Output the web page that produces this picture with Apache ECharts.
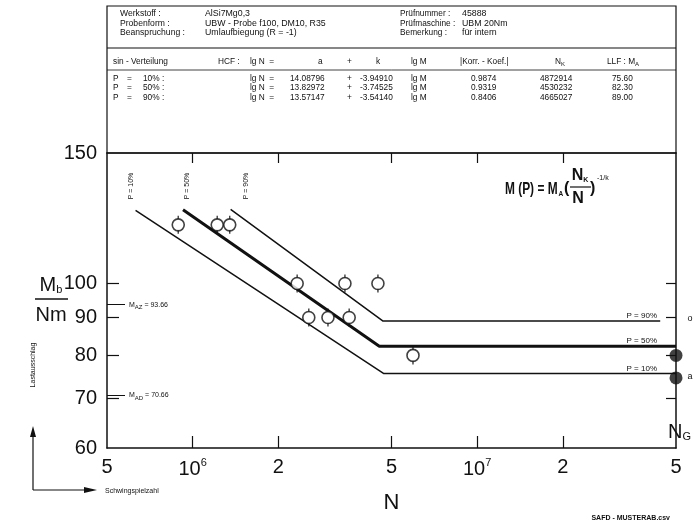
<!DOCTYPE html>
<html><head><meta charset="utf-8">
<script src="https://cdn.jsdelivr.net/npm/echarts@6/dist/echarts.min.js"></script>
<style>html,body{margin:0;padding:0;background:#fff}#c{width:694px;height:527px}</style>
</head><body><div id="c"></div>
<script>
// ---- data ----
const xTicks = [5e5, 1e6, 2e6, 5e6, 1e7, 2e7, 5e7];
const xTickLabels = ['5', '10^6', '2', '5', '10^7', '2', '5'];
const xInnerTicks = [1e6, 2e6, 5e6, 1e7, 2e7];
const yTicks = [60, 70, 80, 90, 100, 150];
const yInnerTicks = [70, 80, 90, 100];
const yMarks = [70.66, 93.66];
const yMarkNames = ['AD', 'AZ'];
const p10Line = [[6.3e5, 125.5], [4.7e6, 75.6], [5e7, 75.6]];
const p50Line = [[9.25e5, 125.8], [4.53e6, 82.3], [5e7, 82.3]];
const p90Line = [[1.36e6, 125.9], [4.67e6, 89.0], [4.4e7, 89.0]];
const testPoints = [[8.9e5, 120], [1.22e6, 120], [1.35e6, 120], [2.33e6, 100], [2.56e6, 90], [2.99e6, 90], [3.43e6, 100], [3.55e6, 90], [4.48e6, 100], [5.95e6, 80]];
const runouts = [[5e7, 80], [5e7, 74.6]];

const headerLeft = [['Werkstoff :', 'AlSi7Mg0,3'], ['Probenform :', 'UBW - Probe f100, DM10, R35'], ['Beanspruchung :', 'Umlaufbiegung (R = -1)']];
const headerRight = [['Prüfnummer :', '45888'], ['Prüfmaschine :', 'UBM 20Nm'], ['Bemerkung :', 'für intern']];
const tableRows = [
  ['10%', '14.08796', '-3.94910', '0.9874', '4872914', '75.60'],
  ['50%', '13.82972', '-3.74525', '0.9319', '4530232', '82.30'],
  ['90%', '13.57147', '-3.54140', '0.8406', '4665027', '89.00']
];

const FONT = '"Liberation Sans", Arial, sans-serif';
const chart = echarts.init(document.getElementById('c'));

function txt(x, y, s, size, extra) {
  return {type: 'text', x: x, y: y, style: Object.assign({text: s, fontFamily: FONT, fontSize: size, fill: '#111', verticalAlign: 'middle'}, extra || {})};
}
function ln(x1, y1, x2, y2, w) {
  return {type: 'line', shape: {x1: x1, y1: y1, x2: x2, y2: y2}, style: {stroke: '#111', lineWidth: w || 1}};
}

const g = [];
// header box
g.push({type: 'rect', shape: {x: 107, y: 6, width: 569, height: 147}, style: {fill: 'none', stroke: '#111', lineWidth: 1.2}});
g.push(ln(107, 48, 676, 48, 1.2));
g.push(ln(107, 70, 676, 70, 0.8));
headerLeft.forEach((r, i) => { g.push(txt(120, 14 + i * 9.5, r[0], 8.6)); g.push(txt(205, 14 + i * 9.5, r[1], 8.8)); });
headerRight.forEach((r, i) => { g.push(txt(400, 14 + i * 9.5, r[0], 8.3)); g.push(txt(462, 14 + i * 9.5, r[1], 8.8)); });
const hy = 62, TF = 8.3;
g.push(txt(113, hy, 'sin - Verteilung', TF));
g.push(txt(218, hy, 'HCF :', TF));
g.push(txt(250, hy, 'lg N  =', TF));
g.push(txt(318, hy, 'a', TF));
g.push(txt(347, hy, '+', TF));
g.push(txt(376, hy, 'k', TF));
g.push(txt(411, hy, 'lg M', TF));
g.push(txt(460, hy, '|Korr. - Koef.|', TF));
g.push({type: 'text', x: 555, y: hy, style: {text: '{a|N}{b|K}', fontFamily: FONT, verticalAlign: 'middle', rich: {a: {fontSize: TF, fontFamily: FONT, fill: '#111'}, b: {fontSize: 6, fontFamily: FONT, fill: '#111', padding: [5, 0, 0, 0]}}}});
g.push({type: 'text', x: 607, y: hy, style: {text: '{a|LLF : M}{b|A}', fontFamily: FONT, verticalAlign: 'middle', rich: {a: {fontSize: TF, fontFamily: FONT, fill: '#111'}, b: {fontSize: 6, fontFamily: FONT, fill: '#111', padding: [5, 0, 0, 0]}}}});
tableRows.forEach((r, i) => {
  const y = 78.5 + i * 9.5;
  g.push(txt(113, y, 'P', TF)); g.push(txt(127, y, '=', TF)); g.push(txt(143, y, r[0] + ' :', TF));
  g.push(txt(250, y, 'lg N  =', TF)); g.push(txt(290, y, r[1], TF)); g.push(txt(347, y, '+', TF));
  g.push(txt(360, y, r[2], TF)); g.push(txt(411, y, 'lg M', TF)); g.push(txt(471, y, r[3], TF));
  g.push(txt(540, y, r[4], TF)); g.push(txt(612, y, r[5], TF));
});
// y axis name fraction
g.push({type: 'text', x: 51, y: 285, style: {text: '{a|M}{b|b}', fontFamily: FONT, align: 'center', verticalAlign: 'middle', rich: {a: {fontSize: 20, fontFamily: FONT, fill: '#111'}, b: {fontSize: 11, fontFamily: FONT, fill: '#111', padding: [10, 0, 0, 0]}}}});
g.push(ln(35, 299, 68, 299, 1.5));
g.push(txt(51, 315, 'Nm', 20, {align: 'center'}));
// Lastausschlag + arrows
g.push({type: 'text', x: 33, y: 365, rotation: Math.PI / 2, style: {text: 'Lastausschlag', fontFamily: FONT, fontSize: 7, fill: '#111', align: 'center', verticalAlign: 'middle'}});
g.push(ln(33, 490, 33, 432, 1.2));
g.push({type: 'polygon', shape: {points: [[33, 426], [30, 437], [36, 437]]}, style: {fill: '#111'}});
g.push(ln(33, 490, 90, 490, 1.2));
g.push({type: 'polygon', shape: {points: [[97, 490], [84, 487], [84, 493]]}, style: {fill: '#111'}});
g.push(txt(105, 491, 'Schwingspielzahl', 7));
g.push(txt(670, 518, 'SAFD - MUSTERAB.csv', 7, {align: 'right', fontWeight: 'bold'}));
// N_G
g.push({type: 'text', x: 668, y: 432, style: {text: '{a|N}{b|G}', fontFamily: FONT, verticalAlign: 'middle', rich: {a: {fontSize: 20, fontFamily: FONT, fill: '#111'}, b: {fontSize: 11, fontFamily: FONT, fill: '#111', padding: [10, 0, 0, 0]}}}});
g.push(txt(690, 319, 'o', 9, {align: 'center'}));
g.push(txt(690, 377, 'a', 9, {align: 'center'}));
// formula
g.push({type: 'text', x: 505, y: 189, scaleX: 0.7, style: {text: 'M (P) = M', fontFamily: FONT, fontSize: 17, fontWeight: 'bold', fill: '#111', verticalAlign: 'middle'}});
g.push(txt(558.5, 194, 'A', 6.5, {fontWeight: 'bold'}));
g.push(txt(564, 189, '(', 16, {fontWeight: 'bold'}));
g.push({type: 'text', x: 580, y: 176, style: {text: '{a|N}{b|K}', fontFamily: FONT, align: 'center', verticalAlign: 'middle', rich: {a: {fontSize: 16, fontWeight: 'bold', fontFamily: FONT, fill: '#111'}, b: {fontSize: 7, fontWeight: 'bold', fontFamily: FONT, fill: '#111', padding: [8, 0, 0, 0]}}}});
g.push(ln(570, 187, 591, 187, 1.2));
g.push(txt(578, 199, 'N', 16, {align: 'center', fontWeight: 'bold'}));
g.push(txt(590, 189, ')', 16, {fontWeight: 'bold'}));
g.push(txt(597, 178, '-1/k', 7));
// P labels rotated at line starts
[['P = 10%', 131], ['P = 50%', 187], ['P = 90%', 246]].forEach(p => {
  g.push({type: 'text', x: p[1], y: 186, rotation: Math.PI / 2, style: {text: p[0], fontFamily: FONT, fontSize: 7, fill: '#111', align: 'center', verticalAlign: 'middle'}});
});
[['P = 90%', 316], ['P = 50%', 341], ['P = 10%', 369]].forEach(p => {
  g.push(txt(657, p[1], p[0], 8, {align: 'right'}));
});

const supFmt = function (v) {
  const i = xTicks.findIndex(t => Math.abs(t - v) / t < 1e-6);
  const s = i >= 0 ? xTickLabels[i] : '';
  if (s.indexOf('^') >= 0) { const p = s.split('^'); return '{n|' + p[0] + '}{s|' + p[1] + '}'; }
  return '{n|' + s + '}';
};
const axisBase = {type: 'log', logBase: 10, axisLine: {show: true, lineStyle: {color: '#111', width: 1.5}}, splitLine: {show: false}, minorTick: {show: false}, minorSplitLine: {show: false}};

chart.setOption({
  animation: false,
  backgroundColor: '#fff',
  grid: {left: 107, right: 18, top: 153, bottom: 79, containLabel: false},
  xAxis: [
    Object.assign({}, axisBase, {position: 'bottom', min: 5e5, max: 5e7,
      name: 'N', nameLocation: 'middle', nameGap: 44, nameTextStyle: {fontSize: 22, fontFamily: FONT, color: '#111'},
      axisTick: {show: true, inside: true, length: 12, lineStyle: {color: '#111', width: 1.2}, customValues: xInnerTicks},
      axisLabel: {show: true, margin: 9, customValues: xTicks, formatter: supFmt, rich: {n: {fontSize: 20, fontFamily: FONT, color: '#111'}, s: {fontSize: 11, fontFamily: FONT, color: '#111', padding: [0, 0, 14, 0]}}}}),
    Object.assign({}, axisBase, {position: 'top', min: 5e5, max: 5e7,
      axisTick: {show: true, inside: true, length: 10, lineStyle: {color: '#111', width: 1.2}, customValues: xInnerTicks},
      axisLabel: {show: false}})
  ],
  yAxis: [
    Object.assign({}, axisBase, {position: 'left', min: 60, max: 150,
      axisTick: {show: true, inside: true, length: 12, lineStyle: {color: '#111', width: 1.2}, customValues: yInnerTicks},
      axisLabel: {show: true, margin: 10, customValues: yTicks, fontSize: 20, fontFamily: FONT, color: '#111'}}),
    Object.assign({}, axisBase, {position: 'left', min: 60, max: 150, axisLine: {show: false},
      axisTick: {show: true, inside: true, length: 18, lineStyle: {color: '#111', width: 1}, customValues: yMarks},
      axisLabel: {show: true, inside: true, margin: 22, customValues: yMarks,
        formatter: function (v) { const i = yMarks.findIndex(t => Math.abs(t - v) < 1e-6); return '{a|M}{b|' + yMarkNames[i] + '}{a| = ' + yMarks[i].toFixed(2) + '}'; },
        rich: {a: {fontSize: 7, fontFamily: FONT, color: '#111'}, b: {fontSize: 6, fontFamily: FONT, color: '#111', padding: [5, 0, 0, 0]}}}}),
    Object.assign({}, axisBase, {position: 'right', min: 60, max: 150,
      axisTick: {show: true, inside: true, length: 10, lineStyle: {color: '#111', width: 1.2}, customValues: yInnerTicks},
      axisLabel: {show: false}})
  ],
  series: [
    {type: 'line', data: p10Line, symbol: 'none', lineStyle: {color: '#111', width: 1.5}},
    {type: 'line', data: p50Line, symbol: 'none', lineStyle: {color: '#111', width: 3}},
    {type: 'line', data: p90Line, symbol: 'none', lineStyle: {color: '#111', width: 1.5}},
    {type: 'scatter', data: testPoints, symbol: 'path://M-0.7,0h1.4v4h-1.4zM-0.7,14h1.4v4h-1.4z', symbolSize: [1.4, 18], itemStyle: {color: '#111'}, z: 4},
    {type: 'scatter', data: testPoints, symbol: 'circle', symbolSize: 12, itemStyle: {color: '#fff', borderColor: '#111', borderWidth: 1.6}, z: 5},
    {type: 'scatter', data: runouts, symbol: 'circle', symbolSize: 13, clip: false, itemStyle: {color: '#111'}, z: 6}
  ],
  graphic: g
});
</script></body></html>
